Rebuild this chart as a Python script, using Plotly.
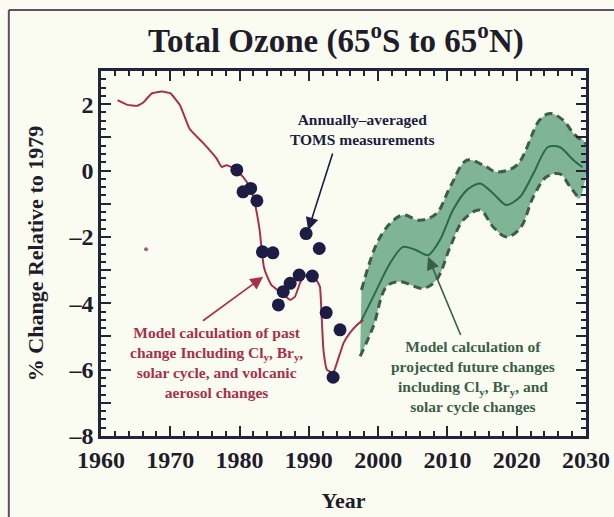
import plotly.graph_objects as go

# ---- data ----
model_past_years = [1962.4, 1963.8, 1965.2, 1966.1, 1967.3, 1968.8, 1970.0, 1971.4, 1972.8, 1974.8,
                    1976.7, 1977.4, 1978.1, 1979.1, 1980.5, 1981.5, 1982.2, 1982.5, 1982.9, 1983.2,
                    1983.5, 1984.0, 1984.6, 1986.1, 1987.3, 1988.0, 1988.7, 1989.2, 1990.2, 1991.1,
                    1991.6, 1991.85, 1992.1, 1992.6, 1993.5, 1994.2, 1995.0, 1995.9, 1996.9, 1997.85]
model_past_values = [2.12, 1.98, 1.95, 2.05, 2.32, 2.38, 2.33, 1.97, 1.25, 0.82,
                     0.36, 0.11, 0.16, 0.08, -0.19, -0.49, -0.99, -1.29, -1.8, -2.4,
                     -2.9, -3.2, -3.45, -3.7, -3.9, -3.8, -3.4, -3.2, -3.15, -3.3,
                     -3.5, -4.4, -5.4, -6.0, -6.1, -5.7, -5.2, -4.9, -4.66, -4.5]

toms_years = [1979.6, 1980.5, 1981.6, 1982.5, 1983.3, 1984.8, 1985.6, 1986.3,
              1987.3, 1988.6, 1989.6, 1990.5, 1991.5, 1992.5, 1993.5, 1994.5]
toms_values = [0.02, -0.64, -0.54, -0.91, -2.45, -2.48, -4.05, -3.65,
               -3.4, -3.15, -1.9, -3.18, -2.35, -4.28, -6.23, -4.8]

stray_year = [1966.5]
stray_value = [-2.37]

future_years = [1997.4, 1999.3, 2001.7, 2003.6, 2005.5, 2007.2, 2008.9, 2010.8, 2012.8,
                2014.7, 2016.6, 2018.5, 2020.5, 2022.4, 2024.5, 2026.2, 2028.2, 2029.5]
future_center = [-4.6, -3.8, -2.8, -2.3, -2.4, -2.55, -2.1, -1.19, -0.59,
                 -0.39, -0.69, -1.04, -0.79, -0.09, 0.71, 0.71, 0.31, 0.1]

upper_years = [1997.6, 1999.8, 2001.7, 2003.6, 2006.0, 2008.4, 2010.4, 2012.8, 2015.2,
               2017.1, 2020.0, 2023.3, 2024.8, 2026.7, 2028.2, 2030.0]
upper_values = [-3.6, -2.2, -1.6, -1.34, -1.5, -1.3, -0.49, 0.31, 0.16,
                -0.04, 0.16, 1.52, 1.72, 1.52, 1.12, 0.8]

lower_years = [1997.4, 1999.3, 2001.2, 2003.1, 2006.5, 2008.4, 2010.4, 2012.3, 2014.7,
               2016.6, 2018.5, 2020.5, 2022.4, 2024.3, 2026.2, 2027.7, 2029.0]
lower_values = [-5.6, -4.7, -3.5, -3.35, -3.55, -3.3, -2.3, -1.49, -1.19,
                -1.7, -2.0, -1.74, -0.79, -0.19, -0.1, -0.49, -0.85]

x_ticks = [1960, 1970, 1980, 1990, 2000, 2010, 2020, 2030]
y_ticks = [-8, -7, -6, -5, -4, -3, -2, -1, 0, 1, 2, 3]
y_ticktext = ["–8", "", "–6", "", "–4", "", "–2", "", "0", "", "2", ""]

BG = "#fbfcf1"
SERIF = "Liberation Serif"
AXIS = "#25233a"
TXT = "#1f1d2c"
RED = "#a8304a"
NAVY = "#1c1c45"
GREEN_LINE = "#276a4e"
GREEN_EDGE = "#3b5e4a"
GREEN_FILL = "rgba(104,168,132,0.85)"

fig = go.Figure()

# band fill
fig.add_trace(go.Scatter(
    x=upper_years + lower_years[::-1],
    y=upper_values + lower_values[::-1],
    fill="toself", fillcolor=GREEN_FILL, line=dict(width=0),
    mode="lines", hoverinfo="skip", showlegend=False, line_shape="spline"))
fig.add_trace(go.Scatter(x=upper_years, y=upper_values, mode="lines",
                         line=dict(color=GREEN_EDGE, width=3, dash="8px,5px", shape="spline"),
                         showlegend=False))
fig.add_trace(go.Scatter(x=lower_years, y=lower_values, mode="lines",
                         line=dict(color=GREEN_EDGE, width=3, dash="8px,5px", shape="spline"),
                         showlegend=False))
fig.add_trace(go.Scatter(x=future_years, y=future_center, mode="lines",
                         line=dict(color=GREEN_LINE, width=2, shape="spline", smoothing=0.8),
                         showlegend=False))

fig.add_trace(go.Scatter(x=model_past_years, y=model_past_values, mode="lines",
                         line=dict(color=RED, width=2, shape="spline", smoothing=0.35),
                         showlegend=False))

fig.add_trace(go.Scatter(x=toms_years, y=toms_values, mode="markers",
                         marker=dict(color=NAVY, size=13), showlegend=False))
fig.add_trace(go.Scatter(x=stray_year, y=stray_value, mode="markers",
                         marker=dict(color="#9a6088", size=4), showlegend=False))

ann_font = dict(family=SERIF, size=15.5, weight="bold")

fig.add_annotation(x=1989.9, y=-1.8, ax=1993.5, ay=0.56, axref="x", ayref="y",
                   text="", showarrow=True, arrowhead=2, arrowsize=1.6, arrowwidth=1.6,
                   arrowcolor=NAVY)
fig.add_annotation(x=1997.7, y=1.25, text="Annually–averaged<br>TOMS measurements",
                   showarrow=False, font=dict(**ann_font, color=NAVY), align="center")

fig.add_annotation(x=1983.4, y=-3.2, ax=1974.5, ay=-4.56, axref="x", ayref="y",
                   text="", showarrow=True, arrowhead=2, arrowsize=1.6, arrowwidth=1.6,
                   arrowcolor=RED)
fig.add_annotation(x=1976.7, y=-5.79,
                   text="Model calculation of past<br>change Including Cl<sub>y</sub>, Br<sub>y</sub>,<br>"
                        "solar cycle, and volcanic<br>aerosol changes",
                   showarrow=False, font=dict(**ann_font, color=RED), align="center")

fig.add_annotation(x=2007.2, y=-2.6, ax=2012.0, ay=-5.0, axref="x", ayref="y",
                   text="", showarrow=True, arrowhead=2, arrowsize=1.6, arrowwidth=1.6,
                   arrowcolor=GREEN_EDGE)
fig.add_annotation(x=2013.7, y=-6.21,
                   text="Model calculation of<br>projected future changes<br>"
                        "including Cl<sub>y</sub>, Br<sub>y</sub>, and<br>solar cycle changes",
                   showarrow=False, font=dict(**ann_font, color=GREEN_EDGE), align="center")

# outer frame lines
fig.add_shape(type="line", xref="paper", yref="paper", x0=-0.19, x1=1.06, y0=1.167, y1=1.167,
              line=dict(color="#5a5264", width=2))
fig.add_shape(type="line", xref="paper", yref="paper", x0=-0.19, x1=-0.19, y0=1.167, y1=-0.3,
              line=dict(color="#5a5264", width=2))

fig.update_layout(
    template="none",
    width=614, height=517,
    paper_bgcolor=BG, plot_bgcolor=BG,
    margin=dict(l=101, r=28, t=71, b=81, autoexpand=False),
    title=dict(text="Total Ozone (65<sup>o</sup>S to 65<sup>o</sup>N)", x=0.547, xanchor="center",
               y=0.922, yanchor="middle",
               font=dict(family=SERIF, size=33, weight="bold", color=TXT)),
    xaxis=dict(range=[1960, 2030], tickvals=x_ticks, ticks="inside", ticklen=10, tickwidth=2,
               tickcolor=AXIS, showline=True, linecolor=AXIS, linewidth=2.5, mirror="ticks",
               showgrid=False, zeroline=False, automargin=False,
               minor=dict(dtick=2, ticks="inside", ticklen=5, tickwidth=1.5, tickcolor=AXIS),
               tickfont=dict(family=SERIF, size=24, weight="bold", color=TXT),
               title=dict(text="Year", standoff=22,
                          font=dict(family=SERIF, size=22, weight="bold", color=TXT))),
    yaxis=dict(range=[-8, 3], tickvals=y_ticks, ticktext=y_ticktext, ticks="inside", ticklen=10,
               tickwidth=2, tickcolor=AXIS, showline=True, linecolor=AXIS, linewidth=2.5,
               mirror="ticks", showgrid=False, zeroline=False, automargin=False,
               minor=dict(dtick=0.25, ticks="inside", ticklen=5, tickwidth=1.5, tickcolor=AXIS),
               tickfont=dict(family=SERIF, size=24, weight="bold", color=TXT),
               title=dict(text="% Change Relative to 1979", standoff=19,
                          font=dict(family=SERIF, size=22, weight="bold", color=TXT))),
)

fig.write_html("out.html", config={"displayModeBar": False},
               post_script="document.body.style.margin='0';"
                           "document.body.style.background='%s';" % BG)
